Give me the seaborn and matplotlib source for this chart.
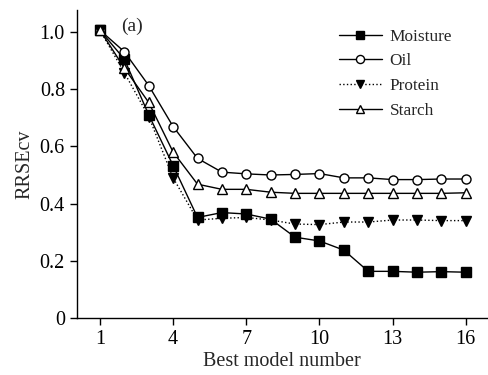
import matplotlib
matplotlib.use("Agg")
import matplotlib.pyplot as plt
import seaborn as sns
import pandas as pd

x = list(range(1, 17))
moisture = [1.005, 0.904, 0.71, 0.533, 0.352, 0.369, 0.364, 0.346, 0.283, 0.270, 0.238, 0.164, 0.164, 0.161, 0.163, 0.161]
oil = [1.005, 0.93, 0.812, 0.669, 0.558, 0.51, 0.504, 0.50, 0.502, 0.505, 0.49, 0.49, 0.484, 0.484, 0.486, 0.486]
protein = [1.005, 0.857, 0.704, 0.49, 0.343, 0.349, 0.352, 0.343, 0.329, 0.327, 0.336, 0.336, 0.343, 0.343, 0.341, 0.341]
starch = [1.005, 0.873, 0.753, 0.58, 0.468, 0.45, 0.45, 0.44, 0.436, 0.436, 0.436, 0.436, 0.436, 0.436, 0.436, 0.438]
xticks = [1, 4, 7, 10, 13, 16]
yticks = [0, 0.2, 0.4, 0.6, 0.8, 1.0]
ytick_labels = ["0", "0.2", "0.4", "0.6", "0.8", "1.0"]

sns.set_theme(style="ticks")
plt.rcParams['font.family'] = ['Liberation Serif', 'DejaVu Serif']

fig = plt.figure(figsize=(4.89, 3.75), dpi=100)
ax = fig.add_axes([0.157, 0.151, 0.838, 0.822])

styles = [
    ("Moisture", moisture, dict(marker="s", linestyle="-", markerfacecolor="black")),
    ("Oil", oil, dict(marker="o", linestyle="-", markerfacecolor="white")),
    ("Protein", protein, dict(marker="v", linestyle=":", markerfacecolor="black")),
    ("Starch", starch, dict(marker="^", linestyle="-", markerfacecolor="white")),
]
for name, vals, st in styles:
    df = pd.DataFrame({"x": x, "y": vals})
    sns.lineplot(data=df, x="x", y="y", ax=ax, color="black", linewidth=1.0,
                 markersize=6.5, markeredgecolor="black", markeredgewidth=1.0,
                 label=name, **st)

ax.set_xlim(0.05, 16.85)
ax.set_ylim(0, 1.075)
ax.set_xticks(xticks)
ax.set_yticks(yticks)
ax.set_yticklabels(ytick_labels)
ax.tick_params(labelsize=14.5, direction="out", length=5, width=1, colors="black")
ax.set_xlabel("Best model number", fontsize=14.5, labelpad=2)
ax.set_ylabel("RRSEcv", fontsize=14.5)
for s in ["top", "right"]:
    ax.spines[s].set_visible(False)
for s in ["left", "bottom"]:
    ax.spines[s].set_color("black")
    ax.spines[s].set_linewidth(1.0)

ax.text(2.3, 1.02, "(a)", fontsize=14, va="center", ha="center")
leg = ax.legend(loc="upper left", bbox_to_anchor=(0.601, 0.99), frameon=False, fontsize=12.4,
                handlelength=2.5, handletextpad=0.47, labelspacing=0.5, borderpad=0.4,
                markerscale=0.9)

fig.savefig("out.png", dpi=100)
